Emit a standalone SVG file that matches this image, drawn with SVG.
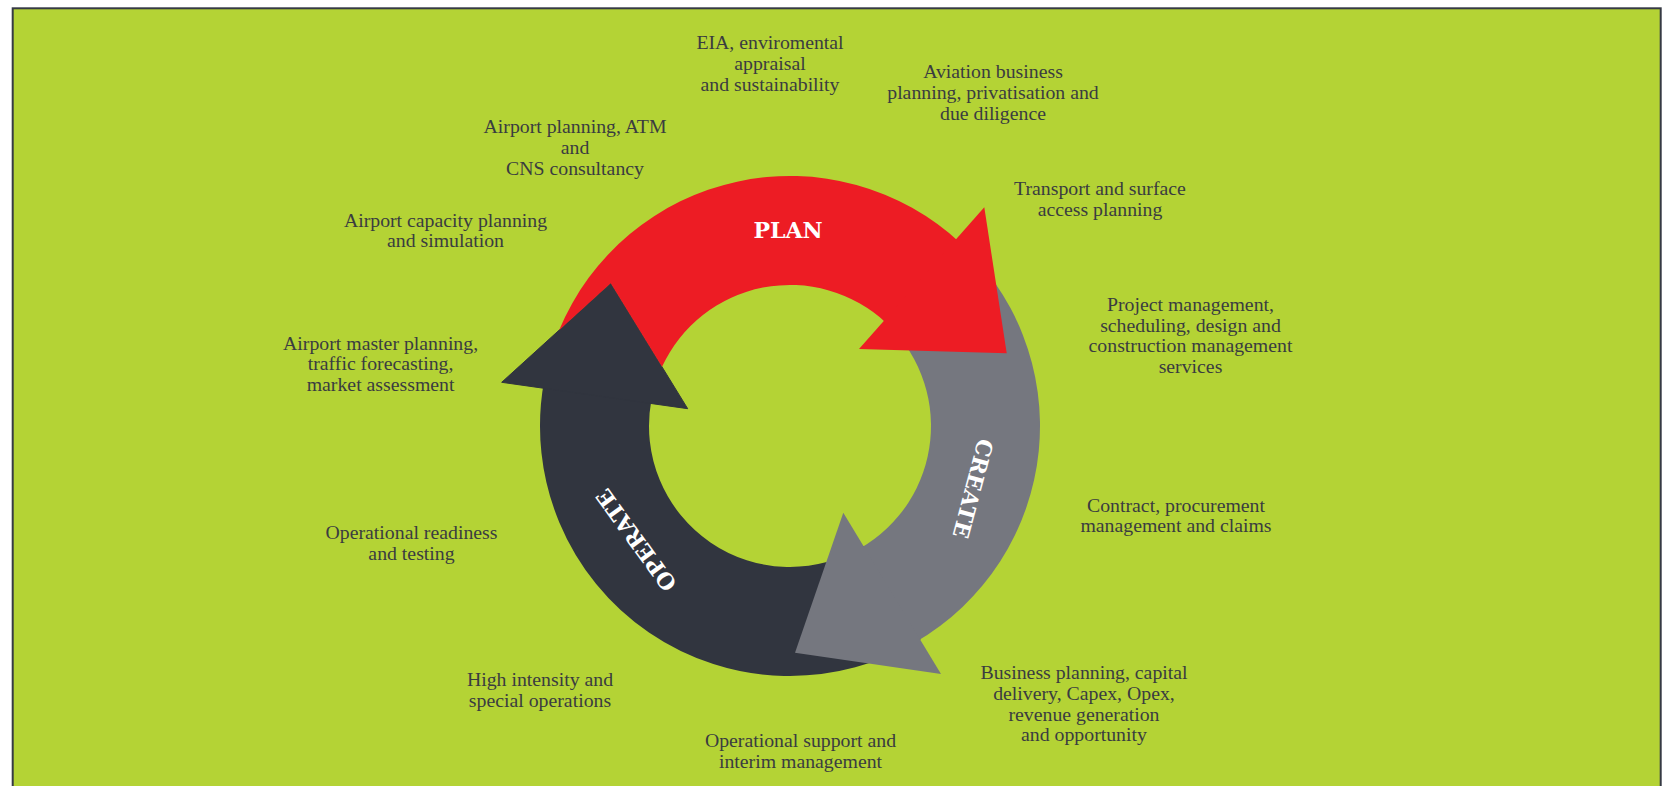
<svg xmlns="http://www.w3.org/2000/svg" width="1667" height="786" viewBox="0 0 1667 786">
  <style>
    .frame { fill: #b4d335; stroke: #363a44; stroke-width: 2; }
    .plan { fill: #ed1c24; }
    .create { fill: #75777f; }
    .operate { fill: #31353f; }
    .operate-head { fill: #31353f; stroke: #31353f; stroke-width: 1; stroke-linejoin: round; }
    .phase { font-family: "DejaVu Serif", "Liberation Serif", serif; font-weight: bold; font-size: 22px; fill: #ffffff; text-anchor: middle; }
    .svc { font-family: "Liberation Serif", "Times New Roman", serif; font-size: 19.8px; fill: #3a3c40; text-anchor: middle; }
  </style>

  <!-- page -->
  <rect x="0" y="0" width="1667" height="786" fill="#ffffff"/>
  <rect class="frame" x="12.7" y="8.3" width="1648" height="800"/>

  <!-- cycle of three curved arrows around centre (790,426), ring radii 141..250 -->
  <g id="connectors">
    <g id="arrow-operate">
      <path class="operate" d="M921.0,638.93 A250,250 0 0 1 544.03,381.30 L651.27,400.79 A141,141 0 0 0 863.88,546.09 Z"/>
      <polygon class="operate-head" points="501.7,382.3 610.7,283.3 687.7,408.7"/>
      <text class="phase" transform="translate(636,540.2) rotate(234)" x="0" y="8">OPERATE</text>
    </g>
    <g id="arrow-create">
      <path class="create" d="M955.82,238.90 A250,250 0 0 1 915.38,642.29 L860.71,547.99 A141,141 0 0 0 883.52,320.48 Z"/>
      <polygon class="create" points="843.3,512.7 795,652.7 941,674"/>
      <text class="phase" transform="translate(973.2,488.6) rotate(105)" x="0" y="8">CREATE</text>
    </g>
    <g id="arrow-plan">
      <path class="plan" d="M559.1,330.2 A250,250 0 0 1 960.64,243.29 L886.24,322.95 A141,141 0 0 0 662.0,366.85 L610.7,283.3 Z"/>
      <polygon class="plan" points="984.3,207.3 1006.7,353.3 859,349"/>
      <text class="phase" x="788" y="238.4">PLAN</text>
    </g>
  </g>

  <!-- service labels -->
  <g id="svc-eia">
    <text class="svc" x="770" y="49.3"><tspan x="770">EIA, enviromental</tspan><tspan x="770" dy="20.6">appraisal</tspan><tspan x="770" dy="20.6">and sustainability</tspan></text>
  </g>
  <g id="svc-aviation-business">
    <text class="svc" x="993" y="78.3"><tspan x="993">Aviation business</tspan><tspan x="993" dy="20.6">planning, privatisation and</tspan><tspan x="993" dy="20.6">due diligence</tspan></text>
  </g>
  <g id="svc-airport-planning">
    <text class="svc" x="575" y="133.3"><tspan x="575">Airport planning, ATM</tspan><tspan x="575" dy="20.6">and</tspan><tspan x="575" dy="20.6">CNS consultancy</tspan></text>
  </g>
  <g id="svc-transport">
    <text class="svc" x="1100" y="195"><tspan x="1100">Transport and surface</tspan><tspan x="1100" dy="20.6">access planning</tspan></text>
  </g>
  <g id="svc-capacity">
    <text class="svc" x="445.5" y="226.7"><tspan x="445.5">Airport capacity planning</tspan><tspan x="445.5" dy="20.6">and simulation</tspan></text>
  </g>
  <g id="svc-project-management">
    <text class="svc" x="1190.5" y="311"><tspan x="1190.5">Project management,</tspan><tspan x="1190.5" dy="20.6">scheduling, design and</tspan><tspan x="1190.5" dy="20.6">construction management</tspan><tspan x="1190.5" dy="20.6">services</tspan></text>
  </g>
  <g id="svc-master-planning">
    <text class="svc" x="380.6" y="349.5"><tspan x="380.6">Airport master planning,</tspan><tspan x="380.6" dy="20.6">traffic forecasting,</tspan><tspan x="380.6" dy="20.6">market assessment</tspan></text>
  </g>
  <g id="svc-contract">
    <text class="svc" x="1176" y="511.5"><tspan x="1176">Contract, procurement</tspan><tspan x="1176" dy="20.6">management and claims</tspan></text>
  </g>
  <g id="svc-readiness">
    <text class="svc" x="411.5" y="539"><tspan x="411.5">Operational readiness</tspan><tspan x="411.5" dy="20.6">and testing</tspan></text>
  </g>
  <g id="svc-business-planning">
    <text class="svc" x="1084" y="679.3"><tspan x="1084">Business planning, capital</tspan><tspan x="1084" dy="20.6">delivery, Capex, Opex,</tspan><tspan x="1084" dy="20.6">revenue generation</tspan><tspan x="1084" dy="20.6">and opportunity</tspan></text>
  </g>
  <g id="svc-high-intensity">
    <text class="svc" x="540" y="686"><tspan x="540">High intensity and</tspan><tspan x="540" dy="20.6">special operations</tspan></text>
  </g>
  <g id="svc-operational-support">
    <text class="svc" x="800.5" y="747"><tspan x="800.5">Operational support and</tspan><tspan x="800.5" dy="20.6">interim management</tspan></text>
  </g>
</svg>
